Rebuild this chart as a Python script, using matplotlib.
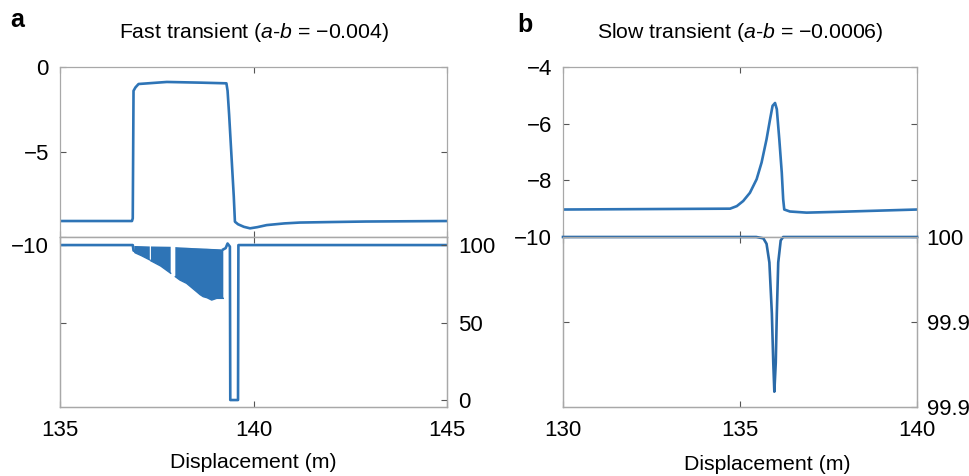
import numpy as np
import matplotlib
matplotlib.use("Agg")
import matplotlib.pyplot as plt

plt.rcParams['font.family'] = ['Liberation Sans', 'DejaVu Sans']
plt.rcParams['mathtext.fontset'] = 'custom'
plt.rcParams['mathtext.rm'] = 'Liberation Sans'
plt.rcParams['mathtext.it'] = 'Liberation Sans:italic'

# ---------------- data ----------------
# Panel a, upper trace
a_top_x = [135, 136.86, 136.88, 136.90, 136.95, 137.03, 137.76, 138.62, 139.30,
           139.33, 139.37, 139.41, 139.45, 139.49, 139.52, 139.6, 139.75, 139.91,
           140.1, 140.34, 140.8, 141.2, 142.0, 142.9, 145]
a_top_y = [-9.06, -9.06, -8.9, -1.4, -1.2, -1.0, -0.88, -0.92, -0.96,
           -1.4, -2.8, -4.4, -6.0, -7.6, -9.1, -9.25, -9.4, -9.49,
           -9.42, -9.3, -9.2, -9.15, -9.12, -9.09, -9.06]

# Panel a, lower trace (rapidly oscillating band: upper and lower envelopes)
a_band_x = [136.92, 136.94, 137.10, 137.32, 137.33, 137.35, 137.60, 137.86, 137.87,
            137.97, 137.98, 138.10, 138.27, 138.40, 138.53, 138.62, 138.70, 138.80,
            138.92, 139.05, 139.22]
a_band_lo = [96.0, 95.0, 93.2, 90.4, np.nan, 89.8, 86.5, 81.8, np.nan,
             np.nan, 79.6, 77.4, 75.3, 72.6, 69.9, 68.0, 66.7, 66.0,
             64.5, 65.6, 65.6]
a_band_hi = [99.4, 99.4, 99.3, 99.1, np.nan, 99.1, 99.0, 98.9, np.nan,
             np.nan, 98.7, 98.5, 98.3, 98.1, 98.0, 97.9, 97.8, 97.7,
             97.5, 97.4, 97.2]
a_bot_x_pre = [135, 136.88, 136.90, 136.94]
a_bot_y_pre = [100, 100, 96.5, 96.0]
a_bot_x_post = [139.22, 139.28, 139.33, 139.36, 139.39, 139.40, 139.60, 139.61, 145]
a_bot_y_post = [97.2, 98.0, 101.0, 100.0, 99.0, 0.0, 0.0, 100.0, 100.0]

# Panel b, upper trace
b_top_x = [130, 134.72, 134.91, 135.09, 135.28, 135.47, 135.61, 135.75, 135.85,
           135.92, 135.99, 136.04, 136.11, 136.18, 136.22, 136.25, 136.41, 136.88,
           137.82, 140]
b_top_y = [-9.03, -9.00, -8.91, -8.73, -8.44, -7.96, -7.37, -6.55, -5.84,
           -5.37, -5.27, -5.49, -6.55, -7.73, -8.67, -9.03, -9.10, -9.14,
           -9.11, -9.03]

# Panel b, lower trace
b_bot_x = [130, 135.46, 135.66, 135.75, 135.83, 135.90, 135.94, 135.97, 136.01,
           136.04, 136.08, 136.15, 136.22, 140]
b_bot_y = [100, 100, 99.9992, 99.996, 99.985, 99.955, 99.926, 99.909, 99.926,
           99.955, 99.985, 99.998, 100, 100]

titles = ["Fast transient ($\\mathit{a}$-$\\mathit{b}$ = \u22120.004)",
          "Slow transient ($\\mathit{a}$-$\\mathit{b}$ = \u22120.0006)"]
panel_letters = ["a", "b"]
xlabel = "Displacement (m)"

a_xticks = [135, 140, 145]
b_xticks = [130, 135, 140]
a_top_yticks = [-10, -5, 0]
a_top_ylabels = ["", "\u22125", "0"]
b_top_yticks = [-10, -8, -6, -4]
b_top_ylabels = ["", "\u22128", "\u22126", "\u22124"]
a_bot_left_ticks = [50, 100]
a_bot_left_labels = ["", "\u221210"]
a_bot_right_ticks = [0, 50, 100]
a_bot_right_labels = ["0", "50", "100"]
b_bot_left_ticks = [99.95, 100]
b_bot_left_labels = ["", "\u221210"]
b_bot_right_ticks = [99.9, 99.95, 100]
b_bot_right_labels = ["99.9", "99.9", "100"]   # as printed (cropped) in the source

# ---------------- style ----------------
W, H = 969, 476
fig = plt.figure(figsize=(W / 100, H / 100), dpi=100)
blue = '#2e74b6'
spine_c = '#a8a8a8'
tick_c = '#555555'
fs_tick = 16
fs_txt = 15.3
lw = 1.9


def px(x0, y0, x1, y1):
    return [x0 / W, 1 - y1 / H, (x1 - x0) / W, (y1 - y0) / H]


def style(ax):
    for s in ax.spines.values():
        s.set_color(spine_c)
        s.set_linewidth(0.9)
    ax.tick_params(direction='in', length=4, width=0.8, color=tick_c,
                   labelsize=fs_tick, labelcolor='black')


# Panel a
a_t = fig.add_axes(px(60, 67, 447, 237))
a_b = fig.add_axes(px(60, 237, 447, 407))
# Panel b
b_t = fig.add_axes(px(563, 67, 917, 237))
b_b = fig.add_axes(px(563, 237, 917, 407))

for ax in (a_t, a_b, b_t, b_b):
    style(ax)

# --- a top
a_t.plot(a_top_x, a_top_y, color=blue, lw=lw)
a_t.set_xlim(135, 145)
a_t.set_ylim(-10, 0)
a_t.set_xticks(a_xticks)
a_t.set_yticks(a_top_yticks)
a_t.set_yticklabels(a_top_ylabels)
a_t.tick_params(top=True, right=True, labelbottom=False, pad=8)

# --- a bottom
a_b.fill_between(a_band_x, a_band_lo, a_band_hi, color=blue, lw=0)
a_b.plot(a_bot_x_pre, a_bot_y_pre, color=blue, lw=lw)
a_b.plot(a_band_x, a_band_lo, color=blue, lw=1.0)
a_b.plot(a_bot_x_post, a_bot_y_post, color=blue, lw=lw)
a_b.set_xlim(135, 145)
a_b.set_ylim(-4.5, 105.2)
a_b.set_xticks(a_xticks)
a_b.set_xticklabels([str(v) for v in a_xticks])
a_b.set_yticks(a_bot_left_ticks)
a_b.set_yticklabels(a_bot_left_labels)
a_b.tick_params(axis='x', top=True, pad=9)
a_b.tick_params(axis='y', pad=8)
a_b2 = a_b.twinx()
style(a_b2)
a_b2.set_ylim(-4.5, 105.2)
a_b2.set_yticks(a_bot_right_ticks)
a_b2.set_yticklabels(a_bot_right_labels)
a_b2.tick_params(axis='y', pad=8)

# --- b top
b_t.plot(b_top_x, b_top_y, color=blue, lw=lw)
b_t.set_xlim(130, 140)
b_t.set_ylim(-10, -4)
b_t.set_xticks(b_xticks)
b_t.set_yticks(b_top_yticks)
b_t.set_yticklabels(b_top_ylabels)
b_t.tick_params(top=True, right=True, labelbottom=False, pad=8)

# --- b bottom
b_b.plot(b_bot_x, b_bot_y, color='#2a6aa8', lw=lw, clip_on=False, zorder=5)
b_b.set_xlim(130, 140)
b_b.set_ylim(99.9, 100)
b_b.set_xticks(b_xticks)
b_b.set_xticklabels([str(v) for v in b_xticks])
b_b.set_yticks(b_bot_left_ticks)
b_b.set_yticklabels(b_bot_left_labels)
b_b.tick_params(axis='x', top=True, pad=9)
b_b.tick_params(axis='y', pad=8)
b_b2 = b_b.twinx()
style(b_b2)
b_b2.set_ylim(99.9, 100)
b_b2.set_yticks(b_bot_right_ticks)
b_b2.set_yticklabels(b_bot_right_labels)
b_b2.tick_params(axis='y', pad=7)

# titles / labels
fig.text(253.5 / W, 1 - 33 / H, titles[0], ha='center', va='center', fontsize=fs_txt)
fig.text(740 / W, 1 - 33 / H, titles[1], ha='center', va='center', fontsize=fs_txt)
fig.text(10 / W, 1 - 27 / H, panel_letters[0], ha='left', va='baseline',
         fontsize=18, fontweight='bold')
fig.text(517 / W, 1 - 32 / H, panel_letters[1], ha='left', va='baseline',
         fontsize=18, fontweight='bold')
fig.text(253.5 / W, 1 - 463 / H, xlabel, ha='center', va='center', fontsize=fs_txt)
fig.text(767 / W, 1 - 465 / H, xlabel, ha='center', va='center', fontsize=fs_txt)

fig.savefig("out.png", dpi=100)
